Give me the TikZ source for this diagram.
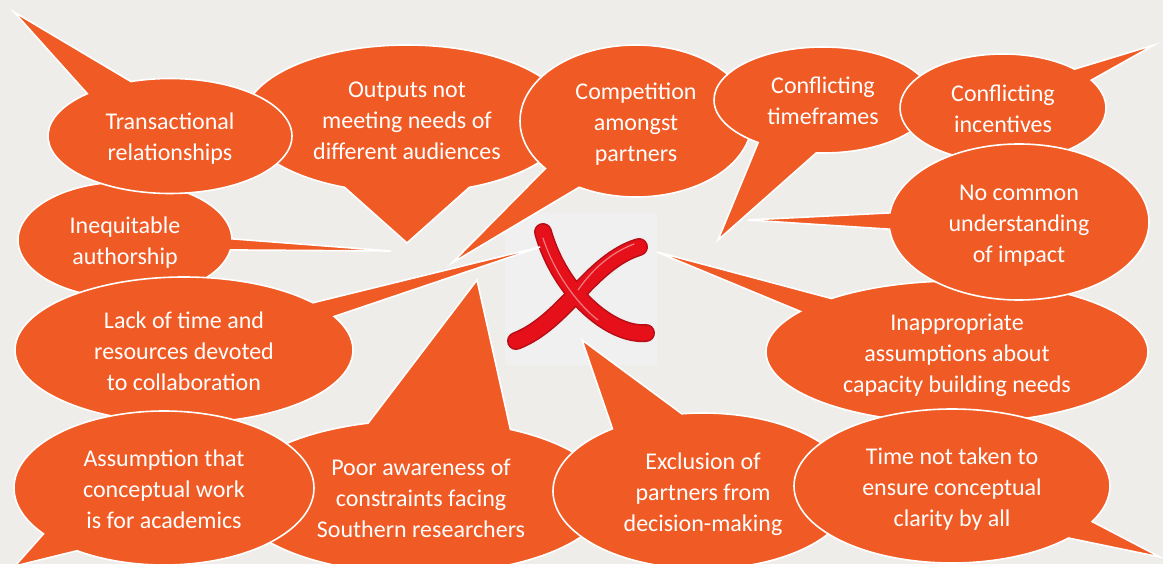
\documentclass[tikz,border=0pt]{standalone}
\usepackage{fontspec}
\setmainfont{Carlito}
\usetikzlibrary{positioning,shapes.callouts,shapes.geometric}
\definecolor{bgpaper}{HTML}{EFEDEA}
\definecolor{crossback}{HTML}{F0F0F0}
\definecolor{bubbleorange}{HTML}{F05A24}
\definecolor{crossred}{HTML}{E5101A}
\newcommand\btext[1]{\raisebox{-3pt}[\height][\depth]{\begin{tabular}{@{}c@{}}#1\end{tabular}}}
\tikzset{bubble/.style={ellipse callout, draw=white, line width=1.6pt,
    fill=bubbleorange, text=white, align=center, inner sep=0pt,
    font=\fontsize{24}{31}\selectfont},
  crossline/.style={line cap=round, line width=18pt, draw=crossred!80!black},
  crossfill/.style={line cap=round, line width=15pt, draw=crossred},
  crossshine/.style={line cap=round, line width=1.2pt, draw=white!45!crossred}
}

\begin{document}
\begin{tikzpicture}[x=1pt, y=-1pt]

\useasboundingbox (0,0) rectangle (1163,564);
\fill [bgpaper] (0,0) rectangle (1163,564);

%Cross mark
\fill [crossback] (505,213) rectangle (657,365);
\draw [crossline] (543,232) .. controls (560,292) and (610,336) .. (646,333);
\draw [crossline] (639,247) .. controls (590,262) and (565,322) .. (516,341);
\draw [crossfill] (543,232) .. controls (560,292) and (610,336) .. (646,333);
\draw [crossfill] (639,247) .. controls (590,262) and (565,322) .. (516,341);
\draw [crossshine] (543,238) .. controls (556,278) and (582,308) .. (598,320);
\draw [crossshine] (634,244) .. controls (605,255) and (588,276) .. (578,290);

%Outputs node
\node (outputs) [bubble, minimum width=326pt, minimum height=148pt,
  callout pointer arc=45, callout absolute pointer={(407,243)}] at (407,119)
  {\btext{Outputs not\\meeting needs of\\different audiences}};
%Competition node
\node (competition) [bubble, minimum width=232pt, minimum height=152pt,
  callout pointer arc=22, callout absolute pointer={(452,263)}] at (636,121)
  {\btext{Competition\\amongst\\partners}};
%Timeframes node
\node (timeframes) [bubble, minimum width=218pt, minimum height=106pt,
  callout pointer arc=33, callout absolute pointer={(718,240)}] at (823,100)
  {\btext{Conflicting\\timeframes}};
%Incentives node
\node (incentives) [bubble, minimum width=206pt, minimum height=108pt,
  callout pointer arc=15, callout absolute pointer={(1154,45)}] at (1003,108)
  {\btext{Conflicting\\incentives}};
%Inequitable node
\node (inequitable) [bubble, minimum width=214pt, minimum height=116pt,
  callout pointer arc=11, callout absolute pointer={(391,251)}] at (125,240)
  {\btext{Inequitable\\authorship}};
%Transactional node
\node (transactional) [bubble, minimum width=244pt, minimum height=115pt,
  callout pointer arc=24, callout absolute pointer={(14,12)}] at (170,136)
  {\btext{Transactional\\relationships}};
%Lack of time node
\node (lacktime) [bubble, minimum width=338pt, minimum height=146pt,
  callout pointer arc=13, callout absolute pointer={(540,247)}] at (184,350)
  {\btext{Lack of time and\\resources devoted\\to collaboration}};
%Poor awareness node
\node (poor) [bubble, minimum width=374pt, minimum height=154pt,
  callout pointer arc=45, callout absolute pointer={(477,280)}] at (421,497)
  {\btext{Poor awareness of\\constraints facing\\Southern researchers}};
%Assumption node
\node (assumption) [bubble, minimum width=300pt, minimum height=154pt,
  callout pointer arc=18, callout absolute pointer={(15,566)}] at (164,488)
  {\btext{Assumption that\\conceptual work\\is for academics}};
%Exclusion node
\node (exclusion) [bubble, minimum width=300pt, minimum height=156pt,
  callout pointer arc=29, callout absolute pointer={(582,340)}] at (703,491)
  {\btext{Exclusion of\\partners from\\decision-making}};
%Inappropriate node
\node (inappropriate) [bubble, minimum width=382pt, minimum height=142pt,
  callout pointer arc=14, callout absolute pointer={(657,252)}] at (957,352)
  {\btext{Inappropriate\\assumptions about\\capacity building needs}};
%No common node
\node (nocommon) [bubble, minimum width=260pt, minimum height=156pt,
  callout pointer arc=12, callout absolute pointer={(748,220)}] at (1019,222)
  {\btext{No common\\understanding\\of impact}};
%Time not taken node
\node (timenot) [bubble, minimum width=316pt, minimum height=154pt,
  callout pointer arc=15, callout absolute pointer={(1160,557)}] at (952,486)
  {\btext{Time not taken to\\ensure conceptual\\clarity by all}};

\end{tikzpicture}
\end{document}
